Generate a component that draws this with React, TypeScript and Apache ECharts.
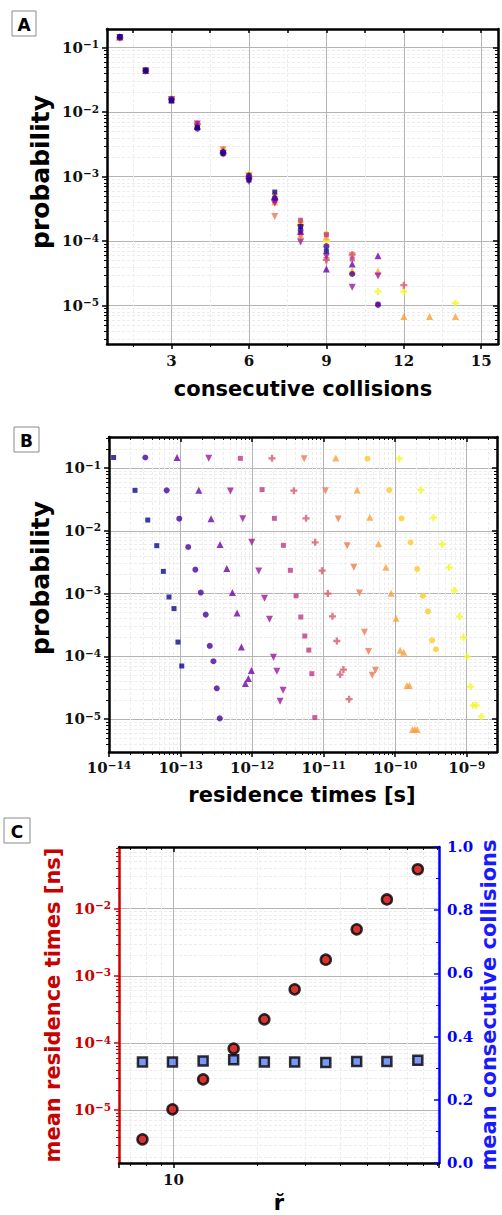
import React, { useEffect, useRef } from "react";
import * as echarts from "echarts";

// ---------- Panels A & B: probability of n consecutive collisions (index = n-1), one list per series
const P1 = [0.147, 0.0441, 0.01485, 0.0058, 0.00226, 0.000883, 0.000577, 0.000169, 7.03e-5];
const P2 = [0.147, 0.0441, 0.0156, 0.00552, 0.00241, 0.00104, 0.000463, 0.000147, 8.36e-5, 3.1e-5, 1.03e-5];
const P3 = [0.147, 0.0441, 0.0156, 0.00603, 0.0025, 0.00104, 0.000491, 0.000141, 3.69e-5, 4.43e-5, 5.94e-5];
const P4 = [0.1426, 0.043, 0.0156, 0.00656, 0.00229, 0.00084, 0.00039, 9.7e-5, 5.8e-5, 1.93e-5, 2.89e-5];
const P5 = [0.1426, 0.0453, 0.0158, 0.00587, 0.00235, 0.000923, 0.000424, 0.000211, 0.000126, 5.3e-5, 1.06e-5];
const P6 = [0.1426, 0.0436, 0.0158, 0.00656, 0.00232, 0.001, 0.000435, 0.000176, 5.13e-5, 6.17e-5, null, 2.08e-5];
const P7 = [0.141, 0.0436, 0.0154, 0.0058, 0.00262, 0.00102, 0.000242, 0.00012, 5.0e-5, 6.0e-5];
const P8 = [0.144, 0.0447, 0.0164, 0.00625, 0.00262, 0.00101, 0.000404, 0.000125, 0.000116, 3.43e-5, 3.43e-5, 6.82e-6, 6.82e-6, 6.82e-6];
const P9 = [0.141, 0.0447, 0.0158, 0.00656, 0.00247, 0.000923, 0.000522, 0.00018, 0.00013];
const P10 = [0.141, 0.0447, 0.0162, 0.0061, 0.00262, 0.00112, 0.00043, 0.000201, 9.93e-5, 3.3e-5, 1.66e-5, 1.66e-5, null, 1.1e-5];

// ---------- Panel B: residence times [s] matching the probabilities above
const T1 = [1.16e-14, 2.31e-14, 3.48e-14, 4.65e-14, 5.75e-14, 6.9e-14, 8.1e-14, 9.2e-14, 1.04e-13];
const T2 = [3.22e-14, 6.4e-14, 9.6e-14, 1.28e-13, 1.61e-13, 1.92e-13, 2.25e-13, 2.56e-13, 2.88e-13, 3.21e-13, 3.53e-13];
const T3 = [8.93e-14, 1.8e-13, 2.67e-13, 3.57e-13, 4.43e-13, 5.3e-13, 6.17e-13, 7.08e-13, 8.06e-13, 8.88e-13, 9.77e-13];
const T4 = [2.48e-13, 4.97e-13, 7.41e-13, 9.9e-13, 1.24e-12, 1.49e-12, 1.75e-12, 1.99e-12, 2.22e-12, 2.46e-12, 2.71e-12];
const T5 = [6.86e-13, 1.38e-12, 2.05e-12, 2.74e-12, 3.43e-12, 4.12e-12, 4.8e-12, 5.46e-12, 6.21e-12, 6.84e-12, 7.53e-12];
const T6 = [1.9e-12, 3.83e-12, 5.69e-12, 7.6e-12, 9.53e-12, 1.145e-11, 1.33e-11, 1.53e-11, 1.7e-11, 1.89e-11, null, 2.27e-11];
const T7 = [5.34e-12, 1.06e-11, 1.6e-11, 2.13e-11, 2.64e-11, 3.17e-11, 3.72e-11, 4.24e-11, 4.77e-11, 5.3e-11];
const T8 = [1.48e-11, 2.94e-11, 4.43e-11, 5.84e-11, 7.41e-11, 8.79e-11, 1.03e-10, 1.175e-10, 1.32e-10, 1.46e-10, 1.585e-10, 1.75e-10, 1.89e-10, 2.03e-10];
const T9 = [4.1e-11, 8.24e-11, 1.225e-10, 1.64e-10, 2.03e-10, 2.44e-10, 2.87e-10, 3.29e-10, 3.71e-10];
const T10 = [1.14e-10, 2.29e-10, 3.43e-10, 4.54e-10, 5.69e-10, 6.75e-10, 7.93e-10, 9.02e-10, 1.016e-9, 1.13e-9, 1.233e-9, 1.358e-9, null, 1.6e-9];

const PROBS = [P1, P2, P3, P4, P5, P6, P7, P8, P9, P10];
const TIMES = [T1, T2, T3, T4, T5, T6, T7, T8, T9, T10];
const SERIES_COLORS = ["#0d0887", "#46039f", "#7201a8", "#9c179e", "#bd3786", "#d8576b", "#ed7953", "#fb9f3a", "#fdca26", "#f0f921"];

// ---------- Panel C
const R_VALUES = [7.73, 9.92, 12.8, 16.5, 21.3, 27.4, 35.5, 45.9, 59.0, 76.3];
const MEAN_RES_TIME = [3.69e-6, 1.03e-5, 2.88e-5, 8.26e-5, 2.25e-4, 6.3e-4, 1.74e-3, 4.92e-3, 1.37e-2, 3.85e-2];
const MEAN_COLLISIONS = [0.32, 0.32, 0.323, 0.327, 0.32, 0.32, 0.318, 0.321, 0.321, 0.325];

// ---------- tick values
const A_X_LABELS = [3, 6, 9, 12, 15];
const A_X_MINOR = [1.5, 4.5, 7.5, 10.5, 13.5];
const C_X_LABELS = [10];

const SERIF = "DejaVu Serif";
const SANS = "DejaVu Sans";
const GRID_MAJOR = "#b4b4b4";
const GRID_MINOR = "#ededed";
const RED = "#cc0000";
const BLUE = "#0000ff";

const PLUS = "path://M-1,-3H1V-1H3V1H1V3H-1V1H-3V-1H-1Z";
const MARKERS = [
  { symbol: "rect", size: 5, rot: 0 },
  { symbol: "circle", size: 6, rot: 0 },
  { symbol: "triangle", size: 7, rot: 0 },
  { symbol: "triangle", size: 7, rot: 180 },
  { symbol: "rect", size: 5, rot: 0 },
  { symbol: PLUS, size: 7, rot: 0 },
  { symbol: "triangle", size: 7, rot: 180 },
  { symbol: "triangle", size: 7, rot: 0 },
  { symbol: "circle", size: 6, rot: 0 },
  { symbol: PLUS, size: 7, rot: 0 },
];

function logMinors(lo: number, hi: number) {
  const out: number[] = [];
  for (let e = Math.floor(Math.log10(lo)); e <= Math.ceil(Math.log10(hi)); e++) {
    for (let k = 2; k <= 9; k++) {
      const v = k * Math.pow(10, e);
      if (v > lo * 1.0001 && v < hi / 1.0001) out.push(v);
    }
  }
  return out;
}
function logMajors(lo: number, hi: number) {
  const out: number[] = [];
  for (let e = Math.ceil(Math.log10(lo) - 1e-9); e <= Math.floor(Math.log10(hi) + 1e-9); e++) out.push(Math.pow(10, e));
  return out;
}

function powLabel(color: string, extra: any = {}) {
  return {
    show: true,
    margin: 8,
    formatter: (v: number) => {
      const e = Math.round(Math.log10(v));
      return e < 0 ? `{b|10}{s|\u2212${-e}}` : `{b|10}{s|${e}}`;
    },
    rich: {
      b: { fontFamily: SERIF, fontSize: 15, fontWeight: "bold", color, lineHeight: 18 },
      s: { fontFamily: SERIF, fontSize: 10.5, fontWeight: "bold", color, verticalAlign: "top", lineHeight: 11 },
    },
    ...extra,
  };
}

const xAxes: any[] = [];
const yAxes: any[] = [];
function addX(a: any) { xAxes.push(a); return xAxes.length - 1; }
function addY(a: any) { yAxes.push(a); return yAxes.length - 1; }

function frameLine(color: string) {
  return { show: true, onZero: false, lineStyle: { color, width: 2.5 } };
}
const noLine = { show: false };
const noLabel = { show: false };
const noSplit = { show: false };
const minorSplit = { show: true, lineStyle: { color: GRID_MINOR, width: 1, type: [3, 2] } };

// adds tick-only companion axes (minor ticks with dashed grid, mirrored ticks)
function logAxisSet(kind: "x" | "y", grid: number, min: number, max: number, main: any, opts: { color?: string; mirrorColor?: string }) {
  const add = kind === "x" ? addX : addY;
  const color = opts.color || "#000";
  const sides = kind === "x" ? ["bottom", "top"] : ["left", "right"];
  const idx = add({
    gridIndex: grid, type: "log", logBase: 10, min, max, position: sides[0],
    axisLine: frameLine(color),
    axisTick: { show: true, length: 5, lineStyle: { color, width: 1.5 } },
    splitLine: { show: true, lineStyle: { color: GRID_MAJOR, width: 1 } },
    ...main,
  });
  add({
    gridIndex: grid, type: "log", logBase: 10, min, max, position: sides[0],
    axisLine: noLine, axisLabel: noLabel,
    axisTick: { show: true, customValues: logMinors(min, max), length: 3, lineStyle: { color, width: 1 } },
    splitLine: minorSplit,
  });
  if (opts.mirrorColor) {
    const mc = opts.mirrorColor;
    add({
      gridIndex: grid, type: "log", logBase: 10, min, max, position: sides[1],
      axisLine: frameLine(mc), axisLabel: noLabel, splitLine: noSplit,
      axisTick: { show: true, inside: true, customValues: logMajors(min, max), length: 5, lineStyle: { color: mc, width: 1.5 } },
    });
    add({
      gridIndex: grid, type: "log", logBase: 10, min, max, position: sides[1],
      axisLine: noLine, axisLabel: noLabel, splitLine: noSplit,
      axisTick: { show: true, inside: true, customValues: logMinors(min, max), length: 3, lineStyle: { color: mc, width: 1 } },
    });
  }
  return idx;
}

// ---------- Panel A axes
const A_GRID = 0;
const A_XMIN = 0.5, A_XMAX = 15.65, A_YMIN = 2.55e-6, A_YMAX = 0.194;
const axA = addX({
  gridIndex: A_GRID, type: "value", min: A_XMIN, max: A_XMAX, position: "bottom",
  axisLine: frameLine("#000"),
  axisTick: { show: true, customValues: A_X_LABELS, length: 5, lineStyle: { color: "#000", width: 1.5 } },
  axisLabel: { customValues: A_X_LABELS, fontFamily: SERIF, fontSize: 15, fontWeight: "bold", color: "#111", margin: 9 },
  splitLine: { show: true, lineStyle: { color: GRID_MAJOR, width: 1 } },
});
addX({
  gridIndex: A_GRID, type: "value", min: A_XMIN, max: A_XMAX, position: "bottom",
  axisLine: noLine, axisLabel: noLabel,
  axisTick: { show: true, customValues: A_X_MINOR, length: 3, lineStyle: { color: "#000", width: 1 } },
  splitLine: minorSplit,
});
addX({
  gridIndex: A_GRID, type: "value", min: A_XMIN, max: A_XMAX, position: "top",
  axisLine: frameLine("#000"), axisLabel: noLabel, splitLine: noSplit,
  axisTick: { show: true, inside: true, customValues: A_X_LABELS.concat(A_X_MINOR), length: 4, lineStyle: { color: "#000", width: 1.5 } },
});
const ayA = logAxisSet("y", A_GRID, A_YMIN, A_YMAX, { axisLabel: powLabel("#111", { showMinLabel: false, showMaxLabel: false }) }, { mirrorColor: "#000" });

// ---------- Panel B axes
const B_GRID = 1;
const B_XMIN = 1e-14, B_XMAX = 2.65e-9, B_YMIN = 3.0e-6, B_YMAX = 0.312;
const axB = logAxisSet("x", B_GRID, B_XMIN, B_XMAX, { axisLabel: powLabel("#111", { showMinLabel: true, showMaxLabel: false, margin: 7 }) }, { mirrorColor: "#000" });
const ayB = logAxisSet("y", B_GRID, B_YMIN, B_YMAX, { axisLabel: powLabel("#111", { showMinLabel: false, showMaxLabel: false }) }, { mirrorColor: "#000" });

// ---------- Panel C axes
const C_GRID = 2;
const C_XMIN = 6.36, C_XMAX = 91, C_YMIN = 1.64e-6, C_YMAX = 0.0826;
const axC = logAxisSet("x", C_GRID, C_XMIN, C_XMAX, {
  axisLabel: { show: true, customValues: C_X_LABELS, formatter: (v: number) => String(Math.round(v)), fontFamily: SERIF, fontSize: 15, fontWeight: "bold", color: "#111", margin: 9, showMinLabel: false, showMaxLabel: false },
}, { mirrorColor: "#000" });
const ayC = logAxisSet("y", C_GRID, C_YMIN, C_YMAX, { axisLabel: powLabel(RED, { showMinLabel: false, showMaxLabel: false }) }, { color: RED });
const ayC2 = addY({
  gridIndex: C_GRID, type: "value", min: 0, max: 1, interval: 0.2, position: "right",
  axisLine: frameLine(BLUE),
  axisTick: { show: true, inside: true, length: 5, lineStyle: { color: BLUE, width: 1.5 } },
  minorTick: { show: true, splitNumber: 2, length: 3, lineStyle: { color: BLUE, width: 1 } },
  axisLabel: { formatter: (v: number) => v.toFixed(1), fontFamily: SERIF, fontSize: 15, fontWeight: "bold", color: BLUE, margin: 8 },
  splitLine: noSplit,
});

function panelLabel(letter: string, x: number, y: number, w: number, h: number) {
  return [
    { type: "rect", shape: { x, y, width: w, height: h }, style: { fill: "#fff", stroke: "#8a8a8a", lineWidth: 1 }, z: 10 },
    { type: "text", x: x + w / 2, y: y + h / 2 + 1, style: { text: letter, font: `bold 17px "${SANS}"`, fill: "#000", align: "center", verticalAlign: "middle" }, z: 11 },
  ];
}
function title(text: string, x: number, y: number, color: string, rotate: boolean, size = 21) {
  return {
    type: "text", x, y, rotation: rotate ? Math.PI / 2 : 0,
    style: { text, font: `bold ${size}px "${SANS}"`, fill: color, align: "center", verticalAlign: "middle" },
  };
}

export default function App() {
  const ref = useRef<HTMLDivElement>(null);
  useEffect(() => {
    document.body.style.margin = "0";
    const chart = echarts.init(ref.current!, null, { renderer: "svg" });
    const series: any[] = [];
    for (let k = PROBS.length - 1; k >= 0; k--) {
      const m = MARKERS[k];
      const common = {
        type: "scatter", symbol: m.symbol, symbolSize: m.size, symbolRotate: m.rot,
        itemStyle: { color: SERIES_COLORS[k] }, silent: true,
      };
      series.push({
        ...common, xAxisIndex: axA, yAxisIndex: ayA,
        data: PROBS[k].map((p, i) => [i + 1, p]).filter((d) => d[1] != null),
      });
      series.push({
        ...common, xAxisIndex: axB, yAxisIndex: ayB,
        data: PROBS[k].map((p, i) => [TIMES[k][i], p]).filter((d) => d[1] != null && d[0] != null),
      });
    }
    series.push({
      type: "scatter", xAxisIndex: axC, yAxisIndex: ayC, symbol: "circle", symbolSize: 10,
      itemStyle: { color: RED, borderColor: "#000", borderWidth: 2.5 },
      data: R_VALUES.map((r, i) => [r, MEAN_RES_TIME[i]]), z: 3,
    });
    series.push({
      type: "scatter", xAxisIndex: axC, yAxisIndex: ayC2, symbol: "rect", symbolSize: 9,
      itemStyle: { color: "#5b7cf2", borderColor: "#000", borderWidth: 2.5 },
      data: R_VALUES.map((r, i) => [r, MEAN_COLLISIONS[i]]), z: 4,
    });

    chart.setOption({
      animation: false,
      backgroundColor: "#fff",
      grid: [
        { left: 107, top: 29, width: 391, height: 315, containLabel: false },
        { left: 109, top: 437, width: 388, height: 315, containLabel: false },
        { left: 119, top: 847, width: 320, height: 316, containLabel: false },
      ],
      xAxis: xAxes,
      yAxis: yAxes,
      series,
      graphic: [
        ...panelLabel("A", 12, 11, 24, 25),
        ...panelLabel("B", 14, 427, 25, 25),
        ...panelLabel("C", 4, 818, 26, 25),
        title("probability", 40, 172, "#000", true, 25),
        title("consecutive collisions", 303, 389, "#000", false),
        title("probability", 40, 578, "#000", true, 25),
        title("residence times [s]", 302, 795, "#000", false),
        title("mean residence times [ns]", 53, 1005, "#c80000", true),
        title("mean consecutive collisions", 489, 1005, "#1a1aff", true),
        title("r\u0306", 279, 1203, "#000", false),
      ],
    });
    return () => chart.dispose();
  }, []);
  return <div ref={ref} style={{ position: "absolute", left: 0, top: 0, width: 502, height: 1215 }} />;
}
